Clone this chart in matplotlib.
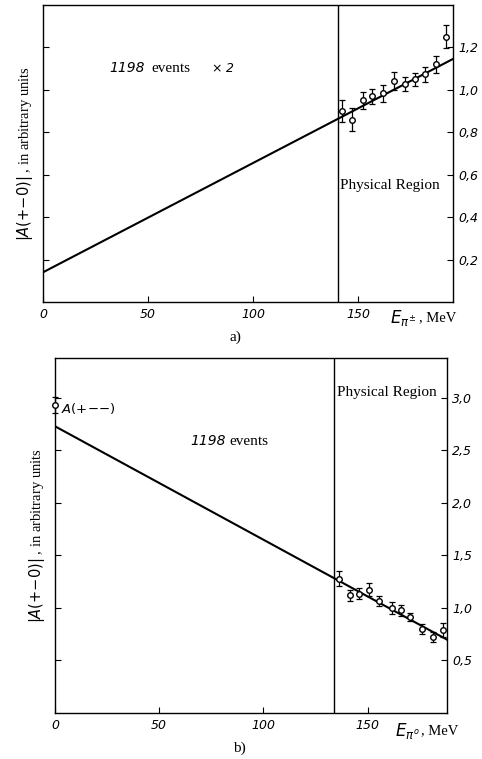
import matplotlib.pyplot as plt
import numpy as np

# panel a) : charged pion energy, amplitude |A(+-0)|
e_a = [142.2, 147.3, 152.2, 156.8, 161.6, 167.0, 172.4, 177.1, 182.0, 187.1, 191.8]
amp_a = [0.90, 0.86, 0.95, 0.97, 0.985, 1.04, 1.026, 1.05, 1.073, 1.12, 1.25]
err_a = [0.05, 0.055, 0.04, 0.035, 0.04, 0.042, 0.033, 0.03, 0.035, 0.04, 0.055]
fit_a = [0.14, 1.145]          # values at x = 0 and x = xmax_a
xmax_a = 195
thresh_a = 140.3

# panel b) : neutral pion energy
e_b = [136.2, 141.5, 145.9, 150.7, 155.5, 161.5, 166.0, 170.6, 176.2, 181.2, 186.0]
amp_b = [1.28, 1.12, 1.137, 1.175, 1.067, 1.0, 0.978, 0.914, 0.80, 0.724, 0.79]
err_b = [0.075, 0.05, 0.055, 0.06, 0.05, 0.06, 0.055, 0.04, 0.05, 0.048, 0.07]
fit_b = [2.73, 0.70]
xmax_b = 188
thresh_b = 134.0
a_pmm = [0.0, 2.93, 0.075]     # A(+--) point: x, y, err

xticks = [0, 50, 100, 150]
yticks_a = [0.2, 0.4, 0.6, 0.8, 1.0, 1.2]
yticks_b = [0.5, 1.0, 1.5, 2.0, 2.5, 3.0]

serif = 'Liberation Serif'
ylab = r'$|A(+{-}0)|$ , in arbitrary units'

fig = plt.figure(figsize=(4.82, 7.59), dpi=100)
ax1 = fig.add_axes([0.0892, 0.6021, 0.850, 0.3913])
ax2 = fig.add_axes([0.1141, 0.0606, 0.8127, 0.4677])


def style(ax, ymax, yticks, xmax):
    ax.set_xlim(0, xmax)
    ax.set_ylim(0, ymax)
    ax.set_xticks(xticks)
    ax.set_xticklabels([str(t) for t in xticks], fontstyle='italic', fontsize=9)
    ax.set_yticks(yticks)
    ax.set_yticklabels([('%.1f' % t).replace('.', ',') for t in yticks],
                       fontstyle='italic', fontsize=9)
    ax.tick_params(direction='in', length=4, width=0.8, left=True, right=True,
                   labelleft=False, labelright=True, pad=4)
    for s in ax.spines.values():
        s.set_linewidth(1.0)


style(ax1, 1.40, yticks_a, xmax_a)
style(ax2, 3.38, yticks_b, xmax_b)

# panel a
ax1.plot([0, xmax_a], fit_a, color='black', lw=1.5)
ax1.axvline(thresh_a, color='black', lw=1.0)
ax1.errorbar(e_a, amp_a, yerr=err_a, fmt='o', mfc='white', mec='black', ms=4,
             ecolor='black', elinewidth=0.9, capsize=2, capthick=0.9, zorder=3)
ax1.text(0.163, 0.774, '1198', transform=ax1.transAxes, fontstyle='italic', fontsize=10)
ax1.text(0.265, 0.774, 'events', transform=ax1.transAxes, family=serif, fontsize=11)
ax1.text(0.41, 0.774, r'$\times$ 2', transform=ax1.transAxes, fontstyle='italic', fontsize=9)
ax1.text(141.5, 0.55, 'Physical Region', family=serif, fontsize=11, va='center')
ax1.text(165, -0.075, r'$E_{\pi^{\pm}}$', fontsize=12, va='center')
ax1.text(179, -0.075, ', MeV', family=serif, fontsize=10.5, va='center')
ax1.set_ylabel(ylab, family=serif, fontsize=10.5, labelpad=6)
ax1.text(0.47, -0.118, 'a)', transform=ax1.transAxes, family=serif, fontsize=11,
         ha='center', va='center')

# panel b
ax2.plot([0, xmax_b], fit_b, color='black', lw=1.5)
ax2.axvline(thresh_b, color='black', lw=1.0)
ax2.errorbar(e_b, amp_b, yerr=err_b, fmt='o', mfc='white', mec='black', ms=4,
             ecolor='black', elinewidth=0.9, capsize=2, capthick=0.9, zorder=3)
ax2.errorbar([a_pmm[0]], [a_pmm[1]], yerr=[a_pmm[2]], fmt='o', mfc='white', mec='black',
             ms=4, ecolor='black', elinewidth=0.9, capsize=2, capthick=0.9,
             clip_on=False, zorder=3)
ax2.text(3, 2.90, r'$A(+{-}{-})$', fontsize=9.5, va='center')
ax2.text(0.345, 0.755, '1198', transform=ax2.transAxes, fontstyle='italic', fontsize=10)
ax2.text(0.445, 0.755, 'events', transform=ax2.transAxes, family=serif, fontsize=11)
ax2.text(thresh_b + 1.5, 3.05, 'Physical Region', family=serif, fontsize=11, va='center')
ax2.text(163, -0.17, r'$E_{\pi^{o}}$', fontsize=12, va='center')
ax2.text(175.5, -0.17, ', MeV', family=serif, fontsize=10.5, va='center')
ax2.set_ylabel(ylab, family=serif, fontsize=10.5, labelpad=6)
ax2.text(0.47, -0.1, 'b)', transform=ax2.transAxes, family=serif, fontsize=11,
         ha='center', va='center')

fig.savefig('out.png', dpi=100)
